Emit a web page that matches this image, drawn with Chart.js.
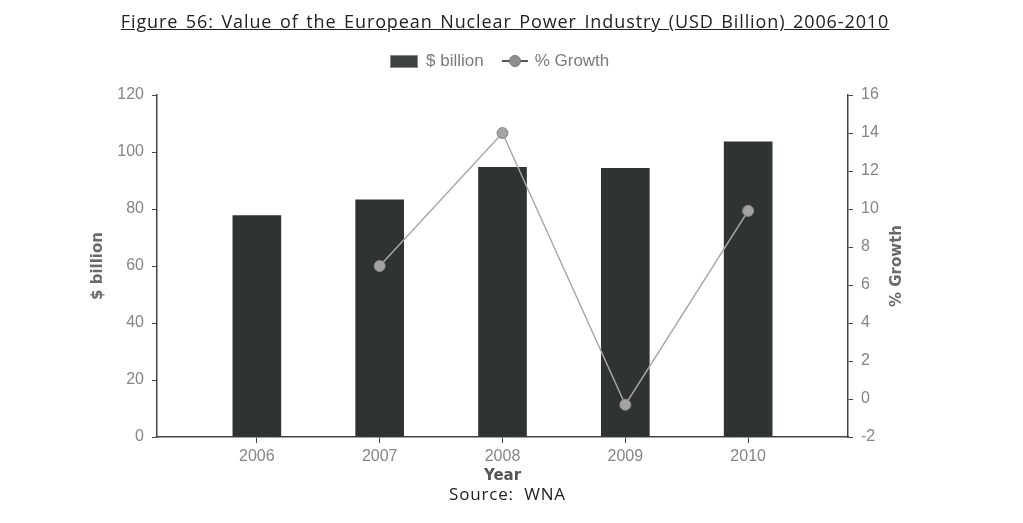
<!DOCTYPE html>
<html>
<head>
<meta charset="utf-8">
<script src="https://cdn.jsdelivr.net/npm/chart.js@4"></script>
<style>
  body { margin: 0; background: #fff; }
  #wrap { position: relative; width: 1023px; height: 523px; overflow: hidden; }
  #chart { position: absolute; left: 0; top: 0; }
  .fig-title { position: absolute; left: 0; width: 1010px; top: 9px; text-align: center;
    font-family: "Open Sans", sans-serif; font-size: 18px; letter-spacing: 0.9px; word-spacing: 2px;
    color: #222; text-decoration: underline; }
  .legend { position: absolute; left: 390px; top: 51px; height: 20px; font-family: "Liberation Sans", Arial, sans-serif;
    font-size: 17px; color: #7a7a7a; display: flex; align-items: center; }
  .legend .box { width: 26px; height: 11px; background: #3f4341; border: 1px solid #8a8a8a; margin-right: 8px; }
  .legend .ln { position: relative; width: 26px; height: 12px; margin: 0 7px 0 18px; }
  .legend .ln::before { content: ""; position: absolute; left: 0; right: 0; top: 5px; height: 2px; background: #555; }
  .legend .ln::after { content: ""; position: absolute; left: 7px; top: 0; width: 10px; height: 10px; border-radius: 50%;
    background: #8e8e8e; border: 1px solid #777; }
  .source { position: absolute; left: 0; width: 1015px; top: 482px; text-align: center;
    font-family: "Open Sans", sans-serif; font-size: 17px; letter-spacing: 0.8px; color: #222; }
</style>
</head>
<body>
<div id="wrap">
  <canvas id="chart" width="1023" height="523"></canvas>
  <div class="fig-title">Figure 56: Value of the European Nuclear Power Industry (USD Billion) 2006-2010</div>
  <div class="legend"><span class="box"></span>$ billion<span class="ln"></span>% Growth</div>
  <div class="source">Source: &nbsp;WNA</div>
</div>
<script>
// values
const years = [2006, 2007, 2008, 2009, 2010];
const billions = [77.7, 83.2, 94.6, 94.3, 103.6];
const growth = [null, 7.0, 14.0, -0.3, 9.9];
const leftTicks = { min: 0, max: 120, step: 20 };
const rightTicks = { min: -2, max: 16, step: 2 };

const tickFont = { family: 'Liberation Sans', size: 16 };
const tickColor = '#858585';
const axisColor = '#444';

// right axis title reads bottom-to-top, so draw it by hand
const rightTitle = {
    id: 'rightTitle',
    afterDraw(chart) {
        const ctx = chart.ctx;
        ctx.save();
        ctx.translate(897, 266);
        ctx.rotate(-Math.PI / 2);
        ctx.font = 'bold 15px "DejaVu Sans"';
        ctx.fillStyle = '#6a6a6a';
        ctx.textAlign = 'center';
        ctx.textBaseline = 'middle';
        ctx.fillText('% Growth', 0, 0);
        ctx.restore();
    }
};

new Chart(document.getElementById('chart'), {
    data: {
        datasets: [{
            type: 'line',
            label: '% Growth',
            data: years.map((y, i) => ({ x: y, y: growth[i] })),
            yAxisID: 'y2',
            borderColor: '#a8a8a8',
            borderWidth: 1.5,
            pointRadius: 5.5,
            pointBackgroundColor: '#a3a3a3',
            pointBorderColor: '#8c8c8c',
            pointBorderWidth: 1,
            tension: 0,
            order: 0
        }, {
            type: 'bar',
            label: '$ billion',
            data: years.map((y, i) => ({ x: y, y: billions[i] })),
            yAxisID: 'y',
            backgroundColor: '#2f3432',
            barThickness: 48,
            order: 1
        }]
    },
    options: {
        responsive: false,
        animation: false,
        layout: { padding: { left: 85, top: 95 } },
        plugins: { legend: { display: false }, tooltip: { enabled: false } },
        scales: {
            x: {
                type: 'linear',
                offset: false,
                min: 2005.187,
                max: 2010.813,
                afterFit: s => { s.height = 86; },
                ticks: { stepSize: 1, includeBounds: false, callback: v => String(v),
                    font: tickFont, color: tickColor, padding: 4, maxRotation: 0 },
                grid: { offset: false, drawOnChartArea: false, tickLength: 6, color: axisColor },
                border: { color: axisColor, width: 1.5 },
                title: { display: true, text: 'Year', color: '#555',
                    font: { family: 'DejaVu Sans', size: 15, weight: 'bold' }, padding: { top: 0, bottom: 38 } }
            },
            y: {
                position: 'left',
                min: leftTicks.min,
                max: leftTicks.max,
                afterFit: s => { s.width = 72; },
                ticks: { stepSize: leftTicks.step, font: tickFont, color: tickColor, padding: 8 },
                grid: { drawOnChartArea: false, tickLength: 5, color: axisColor },
                border: { color: axisColor, width: 1.5 },
                title: { display: true, text: '$ billion', color: '#6a6a6a',
                    font: { family: 'DejaVu Sans', size: 15, weight: 'bold' }, padding: { top: 4 } }
            },
            y2: {
                position: 'right',
                min: rightTicks.min,
                max: rightTicks.max,
                afterFit: s => { s.width = 175; },
                ticks: { stepSize: rightTicks.step, font: tickFont, color: tickColor, padding: 8 },
                grid: { drawOnChartArea: false, tickLength: 5, color: axisColor },
                border: { color: axisColor, width: 1.5 }
            }
        }
    },
    plugins: [rightTitle]
});
</script>
</body>
</html>
